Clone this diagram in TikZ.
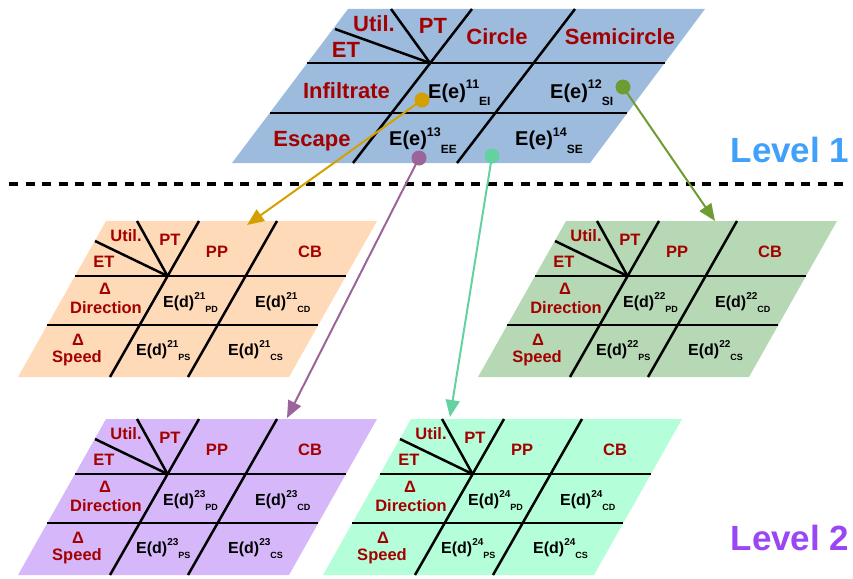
\documentclass[tikz,border=0pt]{standalone}
\usepackage{fontspec}
\setmainfont{Liberation Sans}
\usetikzlibrary{arrows.meta}
\definecolor{topfill}{RGB}{157,188,221}
\definecolor{orfill}{RGB}{255,218,185}
\definecolor{grfill}{RGB}{182,216,180}
\definecolor{pufill}{RGB}{214,184,250}
\definecolor{tefill}{RGB}{180,255,218}
\definecolor{labred}{RGB}{163,0,0}
\definecolor{arrgold}{RGB}{212,160,0}
\definecolor{arrgreen}{RGB}{110,155,50}
\definecolor{arrpurple}{RGB}{155,100,155}
\definecolor{arrteal}{RGB}{100,210,160}
\definecolor{lvlblue}{RGB}{64,160,250}
\definecolor{lvlpurple}{RGB}{155,70,245}
\newcommand\fs[1]{\fontsize{#1}{#1}\selectfont}
\newcommand\Ee[2]{E(e)\raisebox{9.5pt}{\fs{12.5}#1}\raisebox{-7.5pt}{\fs{12}#2}}
\newcommand\Ed[2]{E(d)\raisebox{8pt}{\fs{10}#1}\raisebox{-5pt}{\fs{9}#2}}
\tikzset{
  cellline/.style={line width=2.5pt, black},
  lab1/.style={font=\fs{22}\bfseries, text=labred, inner sep=0},
  lab2/.style={font=\fs{16.5}\bfseries, text=labred, inner sep=0},
  ee1/.style={font=\fs{20}\bfseries, anchor=base west, inner sep=0},
  ed2/.style={font=\fs{16}\bfseries, anchor=base west, inner sep=0},
  dotnode/.style={circle, minimum size=15pt, inner sep=0},
  arr/.style={line width=2pt, -{Triangle[length=17pt,width=14pt]}},
  lvl/.style={font=\fs{35}\bfseries, inner sep=0}
}
\newcommand\lvltwo[5]{%
\begin{scope}[shift={(#4,#5)}]
 \fill[#2] (106,221) -- (377,221) -- (289,377) -- (18,377) -- cycle;
 \draw[cellline] (75,276) -- (346,276);
 \draw[cellline] (47,325) -- (318,325);
 \draw[cellline] (199,221) -- (110,377);
 \draw[cellline] (277,221) -- (188,377);
 \draw[cellline] (167.5,276) -- (95,241);
 \draw[cellline] (167.5,276) -- (137,221);
 \node[lab2] (#1-util) at (126,236) {Util.};
 \node[lab2] (#1-pt) at (170,240) {PT};
 \node[lab2] (#1-et) at (104,262) {ET};
 \node[lab2] (#1-pp) at (217,252) {PP};
 \node[lab2] (#1-cb) at (310,252) {CB};
 \node[lab2] (#1-d1) at (105,289) {Δ};
 \node[lab2] (#1-dir) at (106,308) {Direction};
 \node[lab2] (#1-d2) at (78,340) {Δ};
 \node[lab2] (#1-spd) at (77,358) {Speed};
 \node[ed2] (#1-pd) at (163,307) {\Ed{#3}{PD}};
 \node[ed2] (#1-cd) at (255,307) {\Ed{#3}{CD}};
 \node[ed2] (#1-ps) at (136,355) {\Ed{#3}{PS}};
 \node[ed2] (#1-cs) at (228,355) {\Ed{#3}{CS}};
\end{scope}}
\begin{document}
\begin{tikzpicture}[x=1pt,y=-1pt]
\useasboundingbox (0,0) rectangle (853,578);
% Level 1 panel
\fill[topfill] (348,9) -- (705,9) -- (590,163) -- (232,163) -- cycle;
\draw[cellline] (307,63) -- (665,63);
\draw[cellline] (270,113) -- (627,113);
\draw[cellline] (472,9) -- (353,163);
\draw[cellline] (575,9) -- (457,163);
\draw[cellline] (430,63) -- (335,29);
\draw[cellline] (430,63) -- (391,9);
\node[lab1] (util) at (374,24) {Util.};
\node[lab1] (pt) at (433,26) {PT};
\node[lab1] (et) at (346,50) {ET};
\node[lab1] (circ) at (497,37) {Circle};
\node[lab1] (semi) at (620,37) {Semicircle};
\node[lab1] (infil) at (346.5,91) {Infiltrate};
\node[lab1] (esc) at (312,141) {Escape};
\node[ee1] (e11) at (428,98) {\Ee{11}{EI}};
\node[ee1] (e12) at (550,98) {\Ee{12}{SI}};
\node[ee1] (e13) at (389,145.5) {\Ee{13}{EE}};
\node[ee1] (e14) at (515,145.5) {\Ee{14}{SE}};
% Level 2 panels
\lvltwo{or}{orfill}{21}{0}{0}
\lvltwo{gr}{grfill}{22}{460}{0}
\lvltwo{pu}{pufill}{23}{0}{198}
\lvltwo{te}{tefill}{24}{305}{198}
% separator
\coordinate (sepl) at (9,184);
\coordinate (sepr) at (845,184);
\draw[line width=3.5pt, dash pattern=on 9pt off 7.5pt] (sepl) -- (sepr);
\node[lvl, text=lvlblue] (lvl1) at (790,150) {Level 1};
\node[lvl, text=lvlpurple] (lvl2) at (790,538) {Level 2};
% arrows
\coordinate (cA) at (422,100);
\coordinate (cB) at (623,87);
\coordinate (cC) at (419,158);
\coordinate (cD) at (492,156);
\coordinate (tA) at (247,225);
\coordinate (tB) at (715,221);
\coordinate (tC) at (287,418);
\coordinate (tD) at (450,417);
\draw[arr, arrgold] (cA) -- (tA);
\draw[arr, arrgreen] (cB) -- (tB);
\draw[arr, arrpurple] (cC) -- (tC);
\draw[arr, arrteal] (cD) -- (tD);
\node[dotnode, fill=arrgold] (dotA) at (cA) {};
\node[dotnode, fill=arrgreen] (dotB) at (cB) {};
\node[dotnode, fill=arrpurple] (dotC) at (cC) {};
\node[dotnode, fill=arrteal] (dotD) at (cD) {};
\end{tikzpicture}
\end{document}
